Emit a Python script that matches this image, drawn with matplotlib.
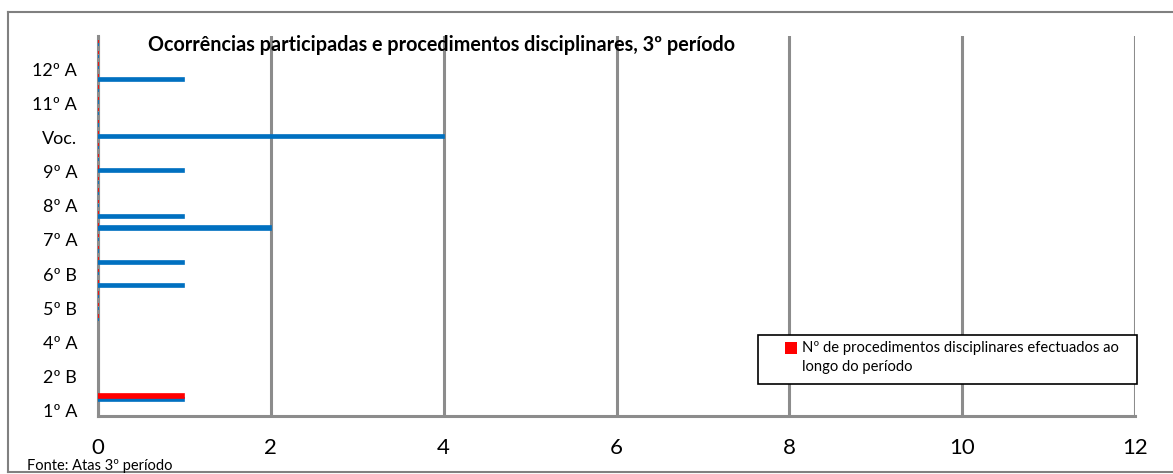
import numpy as np
import matplotlib
matplotlib.use("Agg")
import matplotlib.pyplot as plt
from matplotlib.patches import Rectangle
from matplotlib.lines import Line2D

plt.rcParams['font.family'] = ['Lato', 'DejaVu Sans']

# ---- data ----
categories = ["1º A", "2º B", "4º A", "5º B", "6º B", "7º A", "8º A", "9º A", "Voc.", "11º A", "12º A"]
# series drawn on a finer (hidden) category axis, slot 0 at bottom; NaN = blank cell
nan = np.nan
ocorrencias = [1, nan, nan, nan, nan, nan, nan, 0, 0, 0,
               1, 0, 1, 0, 0, 2, 1, 0, 0, 0,
               1, 0, 0, 4, 0, 0, 0, 0, 1, 0,
               0, 0]
procedimentos = [1, nan, nan, nan, nan, nan, nan, 0, 0, 0,
                 0, 0, 0, 0, 0, 0, 0, 0, 0, 0,
                 0, 0, 0, 0, 0, 0, 0, 0, 0, 0,
                 0, 0]
xticks = [0, 2, 4, 6, 8, 10, 12]
title = "Ocorrências participadas e procedimentos disciplinares, 3º período"
legend_label = "Nº de procedimentos disciplinares efectuados ao\nlongo do período"
source = "Fonte: Atas 3º período"

BLUE = "#0070C0"
RED = "#FF0000"
GRAY = "#8c8c8c"

W, H = 1173, 474
fig = plt.figure(figsize=(W / 100, H / 100), dpi=100)

def fx(px):
    return px / W

def fy(py):
    return 1 - py / H

ax = fig.add_axes([fx(98), fy(416), fx(1135) - fx(98), fy(36) - fy(416)])

oc = np.array(ocorrencias, dtype=float)
pr = np.array(procedimentos, dtype=float)
slots = np.arange(len(oc))
mo = ~np.isnan(oc)
mp = ~np.isnan(pr)

bh = 0.28
ax.barh(slots[mo], oc[mo], height=bh, color=BLUE, edgecolor=BLUE, linewidth=1.2, zorder=3)
ax.barh(slots[mp] + 0.32, pr[mp], height=bh, color=RED, edgecolor=RED, linewidth=1.2, zorder=3)

ax.set_xlim(0, 12)
ax.set_ylim(-1.42, 31.77)
ax.set_xticks(xticks)
ax.set_xticklabels([str(t) for t in xticks], fontsize=16)
ax.tick_params(axis='x', length=0, pad=16)
ax.set_yticks([])
ax.grid(axis='x', color=GRAY, linewidth=2.2, zorder=1)
for s in ['top', 'right']:
    ax.spines[s].set_visible(False)
for s in ['left', 'bottom']:
    ax.spines[s].set_color(GRAY)
    ax.spines[s].set_linewidth(2.2)
    ax.spines[s].set_zorder(2)

# category labels on an overlaid axis
ax2 = ax.twinx()
ax2.set_ylim(-0.155, 10.975)
ax2.set_yticks(range(len(categories)))
ax2.set_yticklabels(categories, fontsize=13)
ax2.yaxis.tick_left()
ax2.tick_params(axis='y', length=0, pad=15)
for s in ax2.spines.values():
    s.set_visible(False)

# title
fig.text(fx(442), fy(45), title, ha='center', va='center', fontsize=14.2, fontweight='bold')

# legend (manual box)
fig.patches.append(Rectangle((fx(758), fy(384)), fx(1137) - fx(758), fy(335) - fy(384),
                             transform=fig.transFigure, facecolor='white', edgecolor='black',
                             linewidth=1.2, zorder=5))
fig.patches.append(Rectangle((fx(785), fy(354)), fx(797) - fx(785), fy(342) - fy(354),
                             transform=fig.transFigure, facecolor=RED, edgecolor='none', zorder=6))
fig.text(fx(802), fy(341), legend_label, ha='left', va='top', fontsize=10.6,
         linespacing=1.45, zorder=7)

# source
fig.text(fx(27), fy(466), source, ha='left', va='center', fontsize=10.5)

# outer border
for (x0, y0, x1, y1) in [(8, 12, W + 5, 12), (8, 12, 8, 472), (8, 472, W + 5, 472)]:
    fig.add_artist(Line2D([fx(x0), fx(x1)], [fy(y0), fy(y1)], transform=fig.transFigure,
                          color='#808080', linewidth=1.5))

fig.savefig("out.png", dpi=100)
